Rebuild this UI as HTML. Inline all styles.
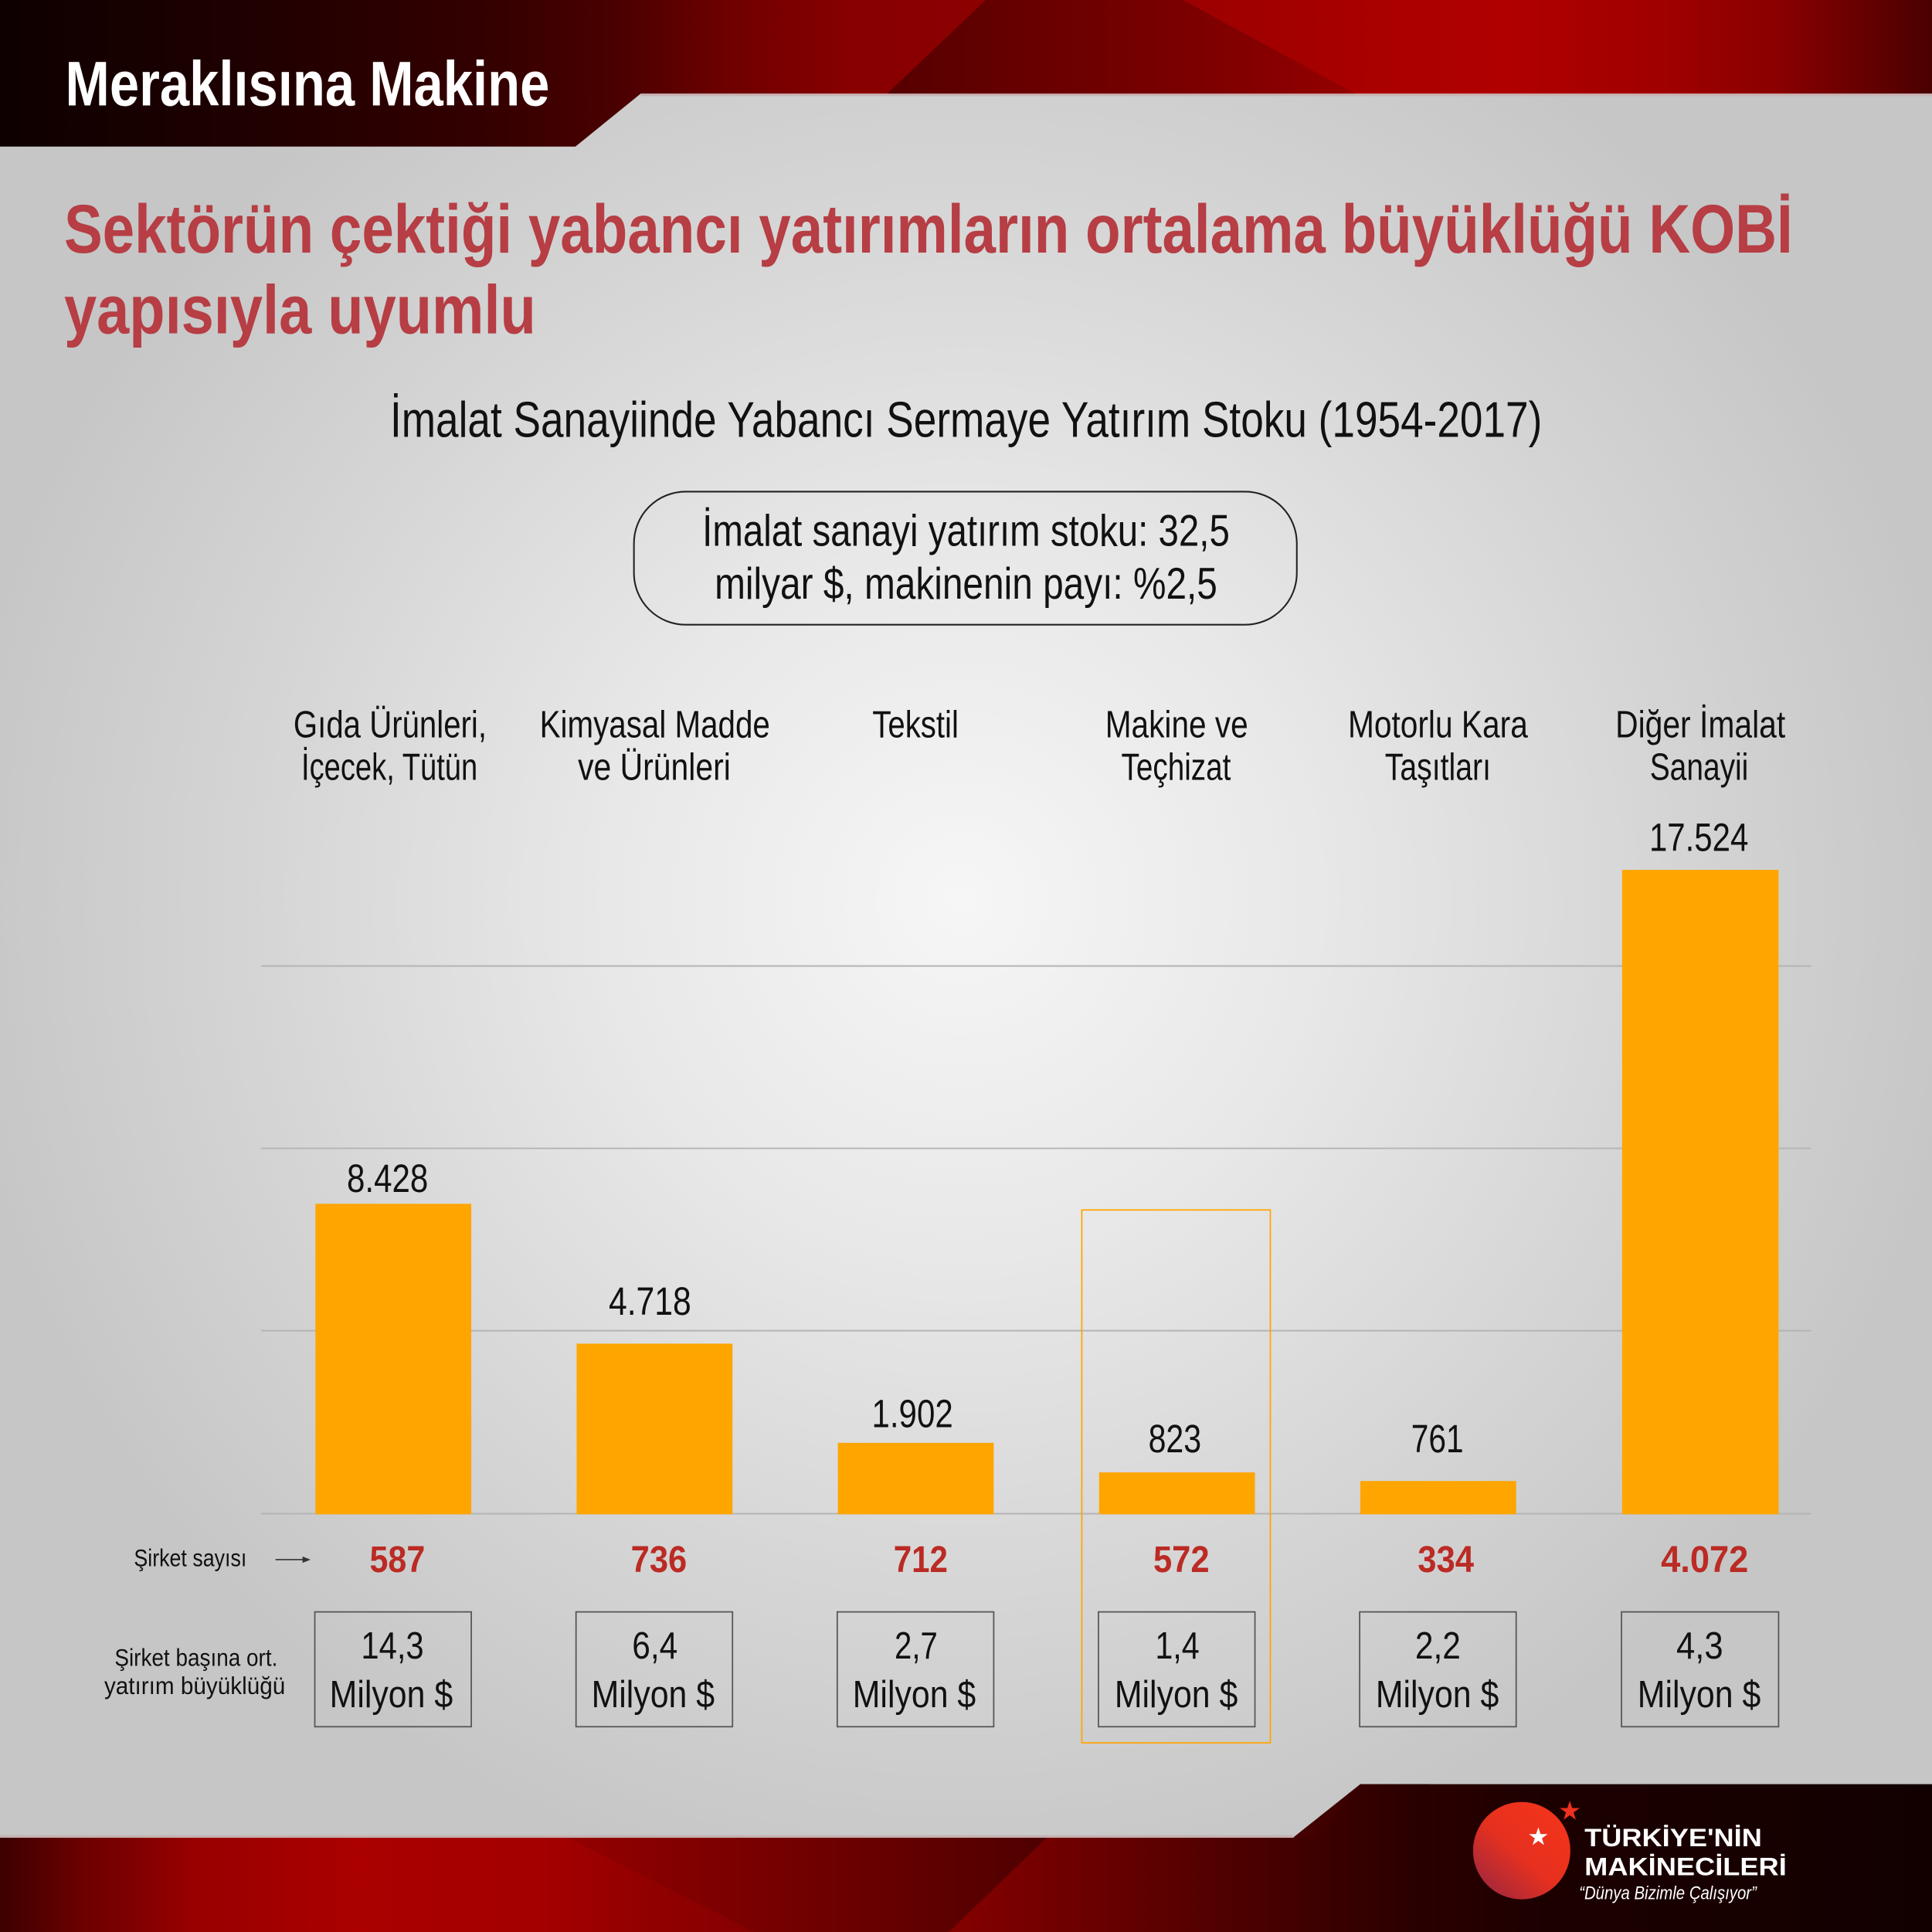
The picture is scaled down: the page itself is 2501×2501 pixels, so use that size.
<!DOCTYPE html>
<html>
<head>
<meta charset="utf-8">
<style>
html,body{margin:0;padding:0;background:#d0d0d0;overflow:hidden;}
svg{display:block;}
text{font-family:"Liberation Sans Narrow","Liberation Sans",sans-serif;}
</style>
</head>
<body>
<svg width="2501" height="2501" viewBox="0 0 1568 1568" xmlns="http://www.w3.org/2000/svg">
<defs>
  <radialGradient id="bg" gradientUnits="userSpaceOnUse" cx="780" cy="730" r="820">
    <stop offset="0" stop-color="#f6f6f6"/>
    <stop offset="0.35" stop-color="#e8e8e8"/>
    <stop offset="0.7" stop-color="#d5d5d5"/>
    <stop offset="1" stop-color="#c6c6c6"/>
  </radialGradient>
  <linearGradient id="hg" gradientUnits="userSpaceOnUse" x1="0" y1="0" x2="1568" y2="0">
    <stop offset="0" stop-color="#0e0000"/>
    <stop offset="0.12" stop-color="#1e0000"/>
    <stop offset="0.25" stop-color="#330000"/>
    <stop offset="0.32" stop-color="#4a0000"/>
    <stop offset="0.38" stop-color="#700000"/>
    <stop offset="0.44" stop-color="#880000"/>
    <stop offset="0.51" stop-color="#8c0000"/>
    <stop offset="0.6" stop-color="#9a0000"/>
    <stop offset="0.7" stop-color="#a80000"/>
    <stop offset="0.78" stop-color="#b00000"/>
    <stop offset="0.86" stop-color="#a00000"/>
    <stop offset="0.92" stop-color="#8a0000"/>
    <stop offset="1" stop-color="#4a0000"/>
  </linearGradient>
  <linearGradient id="hf" gradientUnits="userSpaceOnUse" x1="720" y1="0" x2="1100" y2="0">
    <stop offset="0" stop-color="#560000"/>
    <stop offset="0.6" stop-color="#780000"/>
    <stop offset="1" stop-color="#940000"/>
  </linearGradient>
  <linearGradient id="fg" gradientUnits="userSpaceOnUse" x1="0" y1="0" x2="1568" y2="0">
    <stop offset="0" stop-color="#3c0000"/>
    <stop offset="0.04" stop-color="#6a0000"/>
    <stop offset="0.1" stop-color="#980000"/>
    <stop offset="0.18" stop-color="#aa0000"/>
    <stop offset="0.28" stop-color="#a40000"/>
    <stop offset="0.34" stop-color="#900000"/>
    <stop offset="0.45" stop-color="#7a0000"/>
    <stop offset="0.55" stop-color="#6a0000"/>
    <stop offset="0.66" stop-color="#4a0000"/>
    <stop offset="0.74" stop-color="#2a0000"/>
    <stop offset="0.8" stop-color="#1c0000"/>
    <stop offset="1" stop-color="#120000"/>
  </linearGradient>
  <linearGradient id="ff1" gradientUnits="userSpaceOnUse" x1="460" y1="0" x2="850" y2="0">
    <stop offset="0" stop-color="#940000"/>
    <stop offset="1" stop-color="#4e0000"/>
  </linearGradient>
  <linearGradient id="ff2" gradientUnits="userSpaceOnUse" x1="770" y1="0" x2="1160" y2="0">
    <stop offset="0" stop-color="#880000"/>
    <stop offset="1" stop-color="#260000"/>
  </linearGradient>
  <linearGradient id="logo" gradientUnits="userSpaceOnUse" x1="1268" y1="1468" x2="1205" y2="1536">
    <stop offset="0" stop-color="#f3341a"/>
    <stop offset="0.55" stop-color="#e6301f"/>
    <stop offset="1" stop-color="#a2283c"/>
  </linearGradient>
</defs>

<!-- background -->
<rect x="0" y="0" width="1568" height="1568" fill="url(#bg)"/>

<!-- header -->
<polygon points="0,0 1568,0 1568,76 520,76 467,119 0,119" fill="url(#hg)"/>
<polygon points="800,0 960,0 1100,76 720,76" fill="url(#hf)"/>
<line x1="520" y1="77" x2="1568" y2="77" stroke="#c9b3b3" stroke-width="2"/>
<text x="53" y="85.5" font-size="51" font-weight="bold" fill="#ffffff" textLength="393" lengthAdjust="spacingAndGlyphs">Meraklısına Makine</text>

<!-- title -->
<text x="52" y="205" font-size="56" font-weight="bold" fill="#b63e44" textLength="1403" lengthAdjust="spacingAndGlyphs">Sektörün çektiği yabancı yatırımların ortalama büyüklüğü KOBİ</text>
<text x="52" y="270.6" font-size="56" font-weight="bold" fill="#b63e44" textLength="383" lengthAdjust="spacingAndGlyphs">yapısıyla uyumlu</text>

<!-- subtitle -->
<text x="316.6" y="354.5" font-size="41" fill="#111" textLength="935" lengthAdjust="spacingAndGlyphs">İmalat Sanayiinde Yabancı Sermaye Yatırım Stoku (1954-2017)</text>

<!-- info box -->
<rect x="514.5" y="399" width="538" height="108" rx="42" ry="42" fill="none" stroke="#222" stroke-width="1.3"/>
<text x="570" y="443" font-size="36" fill="#111" textLength="428" lengthAdjust="spacingAndGlyphs">İmalat sanayi yatırım stoku: 32,5</text>
<text x="580" y="486" font-size="36" fill="#111" textLength="408" lengthAdjust="spacingAndGlyphs">milyar $, makinenin payı: %2,5</text>

<!-- category labels -->
<g font-size="31" fill="#111">
<text x="238.2" y="598.5" textLength="156.8" lengthAdjust="spacingAndGlyphs">Gıda Ürünleri,</text>
<text x="244.5" y="633" textLength="143.1" lengthAdjust="spacingAndGlyphs">İçecek, Tütün</text>
<text x="438" y="598.5" textLength="187" lengthAdjust="spacingAndGlyphs">Kimyasal Madde</text>
<text x="469" y="633" textLength="124" lengthAdjust="spacingAndGlyphs">ve Ürünleri</text>
<text x="708" y="598.5" textLength="70" lengthAdjust="spacingAndGlyphs">Tekstil</text>
<text x="897" y="598.5" textLength="116" lengthAdjust="spacingAndGlyphs">Makine ve</text>
<text x="910" y="633" textLength="89" lengthAdjust="spacingAndGlyphs">Teçhizat</text>
<text x="1094" y="598.5" textLength="146" lengthAdjust="spacingAndGlyphs">Motorlu Kara</text>
<text x="1124" y="633" textLength="86" lengthAdjust="spacingAndGlyphs">Taşıtları</text>
<text x="1311" y="598.5" textLength="138" lengthAdjust="spacingAndGlyphs">Diğer İmalat</text>
<text x="1339" y="633" textLength="80" lengthAdjust="spacingAndGlyphs">Sanayii</text>
</g>

<!-- gridlines -->
<g stroke="#b4b4b4" stroke-width="1.2">
<line x1="212" y1="784" x2="1470" y2="784"/>
<line x1="212" y1="932" x2="1470" y2="932"/>
<line x1="212" y1="1080" x2="1470" y2="1080"/>
<line x1="212" y1="1228.5" x2="1470" y2="1228.5"/>
</g>

<!-- bars -->
<g fill="#ffa500">
<rect x="256" y="977" width="126.5" height="252"/>
<rect x="468" y="1090.5" width="126.5" height="138.5"/>
<rect x="680" y="1171" width="126.5" height="58"/>
<rect x="892" y="1195" width="126.5" height="34"/>
<rect x="1104" y="1202" width="126.5" height="27"/>
<rect x="1316.5" y="706" width="127" height="523"/>
</g>

<!-- value labels -->
<g font-size="32" fill="#111">
<text x="281.5" y="967.5" textLength="66" lengthAdjust="spacingAndGlyphs">8.428</text>
<text x="494" y="1067" textLength="67" lengthAdjust="spacingAndGlyphs">4.718</text>
<text x="707.5" y="1158.2" textLength="66" lengthAdjust="spacingAndGlyphs">1.902</text>
<text x="932" y="1178.7" textLength="43" lengthAdjust="spacingAndGlyphs">823</text>
<text x="1145.3" y="1178.7" textLength="42.5" lengthAdjust="spacingAndGlyphs">761</text>
<text x="1338.5" y="690.7" textLength="80.5" lengthAdjust="spacingAndGlyphs">17.524</text>
</g>

<!-- highlight rectangle -->
<rect x="878" y="982" width="153" height="432.5" fill="none" stroke="#ffa500" stroke-width="1.1"/>

<!-- Şirket sayısı row -->
<text x="108.7" y="1271.2" font-size="20" fill="#111" textLength="91.5" lengthAdjust="spacingAndGlyphs">Şirket sayısı</text>
<line x1="223.6" y1="1265.8" x2="247" y2="1265.8" stroke="#333" stroke-width="1"/>
<polygon points="252,1265.8 245.5,1263.2 245.5,1268.4" fill="#333"/>
<g font-size="30" font-weight="bold" fill="#bb2b24">
<text x="300" y="1275.8" textLength="45" lengthAdjust="spacingAndGlyphs">587</text>
<text x="512" y="1275.8" textLength="45.5" lengthAdjust="spacingAndGlyphs">736</text>
<text x="725.2" y="1275.8" textLength="44" lengthAdjust="spacingAndGlyphs">712</text>
<text x="936" y="1275.8" textLength="45.6" lengthAdjust="spacingAndGlyphs">572</text>
<text x="1150.6" y="1275.8" textLength="45.6" lengthAdjust="spacingAndGlyphs">334</text>
<text x="1348" y="1275.8" textLength="71" lengthAdjust="spacingAndGlyphs">4.072</text>
</g>

<!-- average size row -->
<text x="93" y="1352" font-size="20" fill="#111" textLength="132.3" lengthAdjust="spacingAndGlyphs">Şirket başına ort.</text>
<text x="84.6" y="1375" font-size="20" fill="#111" textLength="146.9" lengthAdjust="spacingAndGlyphs">yatırım büyüklüğü</text>

<g fill="none" stroke="#555" stroke-width="1.1">
<rect x="255.5" y="1308.2" width="127" height="93.2"/>
<rect x="467.5" y="1308.2" width="127" height="93.2"/>
<rect x="679.5" y="1308.2" width="127" height="93.2"/>
<rect x="891.5" y="1308.2" width="127" height="93.2"/>
<rect x="1103.5" y="1308.2" width="127" height="93.2"/>
<rect x="1316" y="1308.2" width="127.5" height="93.2"/>
</g>
<g font-size="31" fill="#111">
<text x="293" y="1346" textLength="51" lengthAdjust="spacingAndGlyphs">14,3</text>
<text x="513" y="1346" textLength="37" lengthAdjust="spacingAndGlyphs">6,4</text>
<text x="726" y="1346" textLength="35" lengthAdjust="spacingAndGlyphs">2,7</text>
<text x="937.5" y="1346" textLength="36" lengthAdjust="spacingAndGlyphs">1,4</text>
<text x="1148.5" y="1346" textLength="37" lengthAdjust="spacingAndGlyphs">2,2</text>
<text x="1360.5" y="1346" textLength="38" lengthAdjust="spacingAndGlyphs">4,3</text>
<text x="267.5" y="1385.6" textLength="100" lengthAdjust="spacingAndGlyphs">Milyon $</text>
<text x="480" y="1385.6" textLength="100" lengthAdjust="spacingAndGlyphs">Milyon $</text>
<text x="692" y="1385.6" textLength="100" lengthAdjust="spacingAndGlyphs">Milyon $</text>
<text x="904.6" y="1385.6" textLength="100" lengthAdjust="spacingAndGlyphs">Milyon $</text>
<text x="1116.5" y="1385.6" textLength="100" lengthAdjust="spacingAndGlyphs">Milyon $</text>
<text x="1329" y="1385.6" textLength="100" lengthAdjust="spacingAndGlyphs">Milyon $</text>
</g>

<!-- footer -->
<polygon points="0,1491 1050,1491 1104,1448 1568,1448 1568,1568 0,1568" fill="url(#fg)"/>
<polygon points="460,1491 850,1491 770,1568 612,1568" fill="url(#ff1)"/>
<polygon points="850,1491 1070,1491 1104,1448 1160,1448 1160,1568 770,1568" fill="url(#ff2)" opacity="0.85"/>
<line x1="0" y1="1490.5" x2="1050" y2="1490.5" stroke="#c6b0b0" stroke-width="2"/>

<!-- logo -->
<circle cx="1235" cy="1502" r="39.5" fill="url(#logo)"/>
<polygon transform="translate(1248.5,1491) scale(8)" fill="#ffffff" points="0,-1 0.2245,-0.309 0.951,-0.309 0.363,0.118 0.588,0.809 0,0.382 -0.588,0.809 -0.363,0.118 -0.951,-0.309 -0.2245,-0.309"/>
<polygon transform="translate(1274,1470) scale(8.5)" fill="#ee3020" points="0,-1 0.2245,-0.309 0.951,-0.309 0.363,0.118 0.588,0.809 0,0.382 -0.588,0.809 -0.363,0.118 -0.951,-0.309 -0.2245,-0.309"/>
<text x="1286" y="1498.5" font-family="Liberation Sans, sans-serif" font-size="20.5" font-weight="bold" fill="#ffffff" textLength="144" lengthAdjust="spacingAndGlyphs" style="font-family:'Liberation Sans',sans-serif">TÜRKİYE'NİN</text>
<text x="1286" y="1522" font-size="20.5" font-weight="bold" fill="#ffffff" textLength="164" lengthAdjust="spacingAndGlyphs" style="font-family:'Liberation Sans',sans-serif">MAKİNECİLERİ</text>
<text x="1281.6" y="1541.2" font-size="15" font-style="italic" fill="#ffffff" textLength="144" lengthAdjust="spacingAndGlyphs">“Dünya Bizimle Çalışıyor”</text>
</svg>
</body>
</html>
